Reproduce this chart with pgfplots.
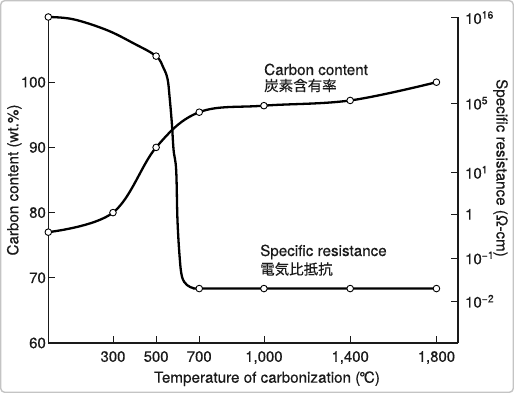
\documentclass[border=0pt]{standalone}
\usepackage{fontspec}
\setmainfont{TeX Gyre Heros}[FakeBold=0.45]
\newfontfamily\cjk{Noto Sans CJK JP}[FakeBold=0.3]
\usepackage{pgfplots}
\pgfplotsset{compat=1.18}
\definecolor{ink}{HTML}{1A1A1A}
\definecolor{frame}{HTML}{C4C4C4}

% Carbon content (wt.%) vs temperature
\pgfplotstableread{
T    C
0    77.0
300  80.0
500  90.0
700  95.4
1000 96.4
1400 97.2
1800 100.0
}\carbon
% Specific resistance, given as its position on the (broken) right-hand scale,
% which shares the 60..110 range of the left axis:
% 1e16 -> 109.9, 1e5 -> 96.76, 1e1 -> 86.18, 1 -> 79.74, 1e-1 -> 73.04, 1e-2 -> 66.40
\pgfplotstableread{
T    R
0    110.0
116  109.65
271  108.0
395  105.97
500  104.0
534  102.2
553  100.5
562  97.9
573  93.70
581  89.60
593  86.53
599  78.87
609  73.24
620  70.17
643  68.90
674  68.40
700  68.35
1000 68.35
1400 68.35
1800 68.35
}\resline
\pgfplotstableread{
T    R
0    110.0
500  104.0
700  68.35
1000 68.35
1400 68.35
1800 68.35
}\resmarks

\begin{document}
\begin{tikzpicture}[x=1pt,y=1pt]
\useasboundingbox (0,0) rectangle (514,393);
\draw[frame, line width=1.4pt, rounded corners=4pt] (0.7,0.7) rectangle (513.3,392.3);

\pgfplotsset{mystyle/.style={
  scale only axis, width=409.7pt, height=326pt,
  at={(48.3pt,50pt)}, anchor=south west,
  xmin=0, xmax=1900, ymin=60, ymax=110,
  clip=false,
  tick align=inside,
  major tick length=6.7pt,
  every tick/.style={ink, line width=0.8pt},
  axis line style={-, line width=1.1pt, ink},
  tick label style={font=\fontsize{14.9}{16}\selectfont, text=ink},
}}

\begin{axis}[mystyle,
  axis x line*=bottom, axis y line*=left,
  xtick={300,500,700,1000,1400,1800},
  xticklabels={300,500,700,{1,000},{1,400},{1,800}},
  ytick={60,70,80,90,100},
  yticklabels={60,70,80,90,100},
  xticklabel style={inner ysep=0pt, yshift=-8pt},
  yticklabel style={inner xsep=2.3pt},
]
\addplot[black, line width=2.3pt, smooth, tension=0.6,
  mark=*, mark size=3.3pt,
  mark options={fill=white, draw=black, line width=0.9pt}]
  table[x=T, y=C] {\carbon};
\end{axis}

\begin{axis}[mystyle,
  axis x line=none, axis y line*=right,
  ytick={109.9,96.76,86.18,79.74,73.04,66.40},
  yticklabels={10\textsuperscript{16},10\textsuperscript{5},10\textsuperscript{1},1,10\textsuperscript{−1},10\textsuperscript{−2}},
  yticklabel style={inner xsep=0pt, xshift=7pt},
]
\addplot[black, line width=2.3pt, smooth, tension=0.6, no marks]
  table[x=T, y=R] {\resline};
\addplot[only marks, mark=*, mark size=3.3pt,
  mark options={fill=white, draw=black, line width=0.9pt}]
  table[x=T, y=R] {\resmarks};
\end{axis}

\begin{scope}[every node/.style={inner sep=0pt, text=ink, font=\fontsize{15.2}{17}\selectfont}]
\node[anchor=base] at (267,10.3) {Temperature of carbonization (\kern-1pt°\kern-1.5ptC)};
\node[anchor=base, rotate=90] at (18.3,213) {Carbon content (wt.\%)};
\node[anchor=base, rotate=-90] at (496.5,225) {Specific resistance (Ω-cm)};
\node[anchor=base west] at (264,318) {Carbon content};
\node[anchor=base west, font=\fontsize{14.5}{16}\selectfont\cjk] at (264,302) {炭素含有率};
\node[anchor=base west] at (260,137) {Specific resistance};
\node[anchor=base west, font=\fontsize{14.5}{16}\selectfont\cjk] at (260,118.5) {電気比抵抗};
\end{scope}
\end{tikzpicture}
\end{document}
